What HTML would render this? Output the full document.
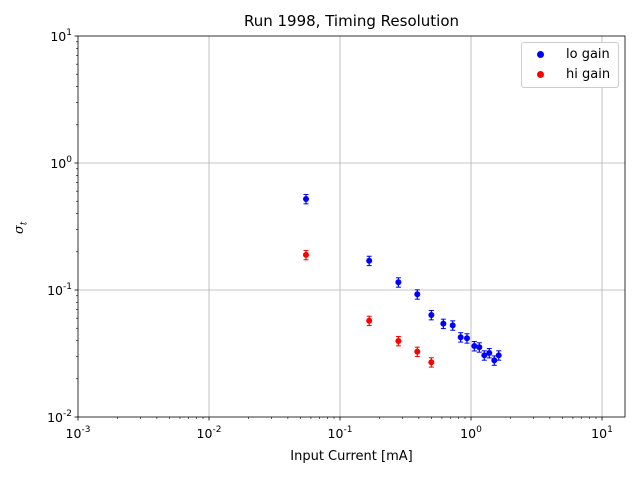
<!DOCTYPE html>
<html><head><meta charset="utf-8"><style>
body{margin:0;background:#fff;font-family:"Liberation Sans","DejaVu Sans",sans-serif}
svg text{font-family:"DejaVu Sans","Liberation Sans",sans-serif}
</style></head><body>
<svg id="c" width="640" height="480" xmlns="http://www.w3.org/2000/svg"></svg>
<script>
const loX=[0.055,0.167,0.279,0.389,0.498,0.615,0.725,0.834,0.932,1.06,1.157,1.263,1.379,1.506,1.628];
const loY=[0.521,0.170,0.115,0.0925,0.0636,0.0543,0.0527,0.0425,0.0417,0.0362,0.0354,0.0306,0.0319,0.0279,0.0306];
const hiX=[0.055,0.167,0.279,0.389,0.498];
const hiY=[0.189,0.0573,0.0397,0.0327,0.027];
const relErr=0.085;
const xTicks=[-3,-2,-1,0,1];
const yTicks=[-2,-1,0,1];
const L=78,R=625,T=36,B=417;
const xmin=-3,xmax=Math.log10(14.98),ymin=-2,ymax=1;
const sx=v=>L+(Math.log10(v)-xmin)/(xmax-xmin)*(R-L);
const sy=v=>B-(Math.log10(v)-ymin)/(ymax-ymin)*(B-T);
const svg=document.getElementById('c');const NS='http://www.w3.org/2000/svg';
function mk(t,a,p){const e=document.createElementNS(NS,t);for(const k in a)e.setAttribute(k,a[k]);(p||svg).appendChild(e);return e;}
xTicks.forEach(d=>{const x=sx(Math.pow(10,d));if(x>L&&x<R){const g=mk('line',{x1:x,x2:x,y1:T,y2:B,stroke:'#b0b0b0','stroke-width':0.8});

}});
yTicks.forEach(d=>{const y=sy(Math.pow(10,d));if(y>T&&y<B){const g=mk('line',{x1:L,x2:R,y1:y,y2:y,stroke:'#b0b0b0','stroke-width':0.8});

}});
for(let d=-3;d<=1;d++){for(let m=1;m<10;m++){const v=m*Math.pow(10,d);const x=sx(v);if(x<L-0.1||x>R+0.1)continue;
mk('line',{x1:x,x2:x,y1:B,y2:B+(m==1?3.5:2),stroke:'#000','stroke-width':m==1?0.8:0.6});}}
for(let d=-2;d<=1;d++){for(let m=1;m<10;m++){const v=m*Math.pow(10,d);const y=sy(v);if(y<T-0.1||y>B+0.1)continue;
mk('line',{x1:L,x2:L-(m==1?3.5:2),y1:y,y2:y,stroke:'#000','stroke-width':m==1?0.8:0.6});}}
xTicks.forEach(d=>{const x=sx(Math.pow(10,d));const t=mk('text',{x:x,y:B+21,'text-anchor':'middle','font-size':12.5});


t.innerHTML='10<tspan dy="-6" font-size="9">'+d+'</tspan>';});
yTicks.forEach(d=>{const y=sy(Math.pow(10,d));const t=mk('text',{x:L-6,y:y+5,'text-anchor':'end','font-size':12.5});


t.innerHTML='10<tspan dy="-6" font-size="9">'+d+'</tspan>';});
function series(xs,ys,col,name){xs.forEach((xv,i)=>{const x=sx(xv),y1=sy(ys[i]*(1-relErr)),y2=sy(ys[i]*(1+relErr));
mk('line',{x1:x,x2:x,y1:y1,y2:y2,stroke:col,'stroke-width':1.2});
mk('line',{x1:x-2.5,x2:x+2.5,y1:y1,y2:y1,stroke:col,'stroke-width':1});
mk('line',{x1:x-2.5,x2:x+2.5,y1:y2,y2:y2,stroke:col,'stroke-width':1});
const c=mk('circle',{cx:x,cy:sy(ys[i]),r:3,fill:col});

});}
series(loX,loY,'#0000ff','lo-gain');
series(hiX,hiY,'#ff0000','hi-gain');
const f=mk('rect',{x:L,y:T,width:R-L,height:B-T,fill:'none',stroke:'#000','stroke-width':0.8});


</script>
<div style="position:absolute;left:0;top:12px;width:703px;text-align:center;font-size:15px;font-family:'DejaVu Sans',sans-serif">Run 1998, Timing Resolution</div>
<div style="position:absolute;left:0;top:449px;width:703px;text-align:center;font-size:13px;font-family:'DejaVu Sans',sans-serif">Input Current [mA]</div>
<div style="position:absolute;left:12px;font-size:13px;font-family:'DejaVu Serif',serif;font-style:italic;transform:rotate(-90deg);transform-origin:left top;top:234px">σ<sub style="font-size:9px">t</sub></div>
<div style="position:absolute;left:521px;top:42px;width:96px;height:44px;border:1px solid #ccc;border-radius:3px;background:#fff;font-size:13px;font-family:'DejaVu Sans',sans-serif">
<div style="position:absolute;left:8px;top:4px"><span style="display:inline-block;width:7px;height:7px;border-radius:50%;background:#00f;margin:0 22px 0 7px"></span>lo gain</div>
<div style="position:absolute;left:8px;top:24px"><span style="display:inline-block;width:7px;height:7px;border-radius:50%;background:#f00;margin:0 22px 0 7px"></span>hi gain</div>
</div>
</body></html>
